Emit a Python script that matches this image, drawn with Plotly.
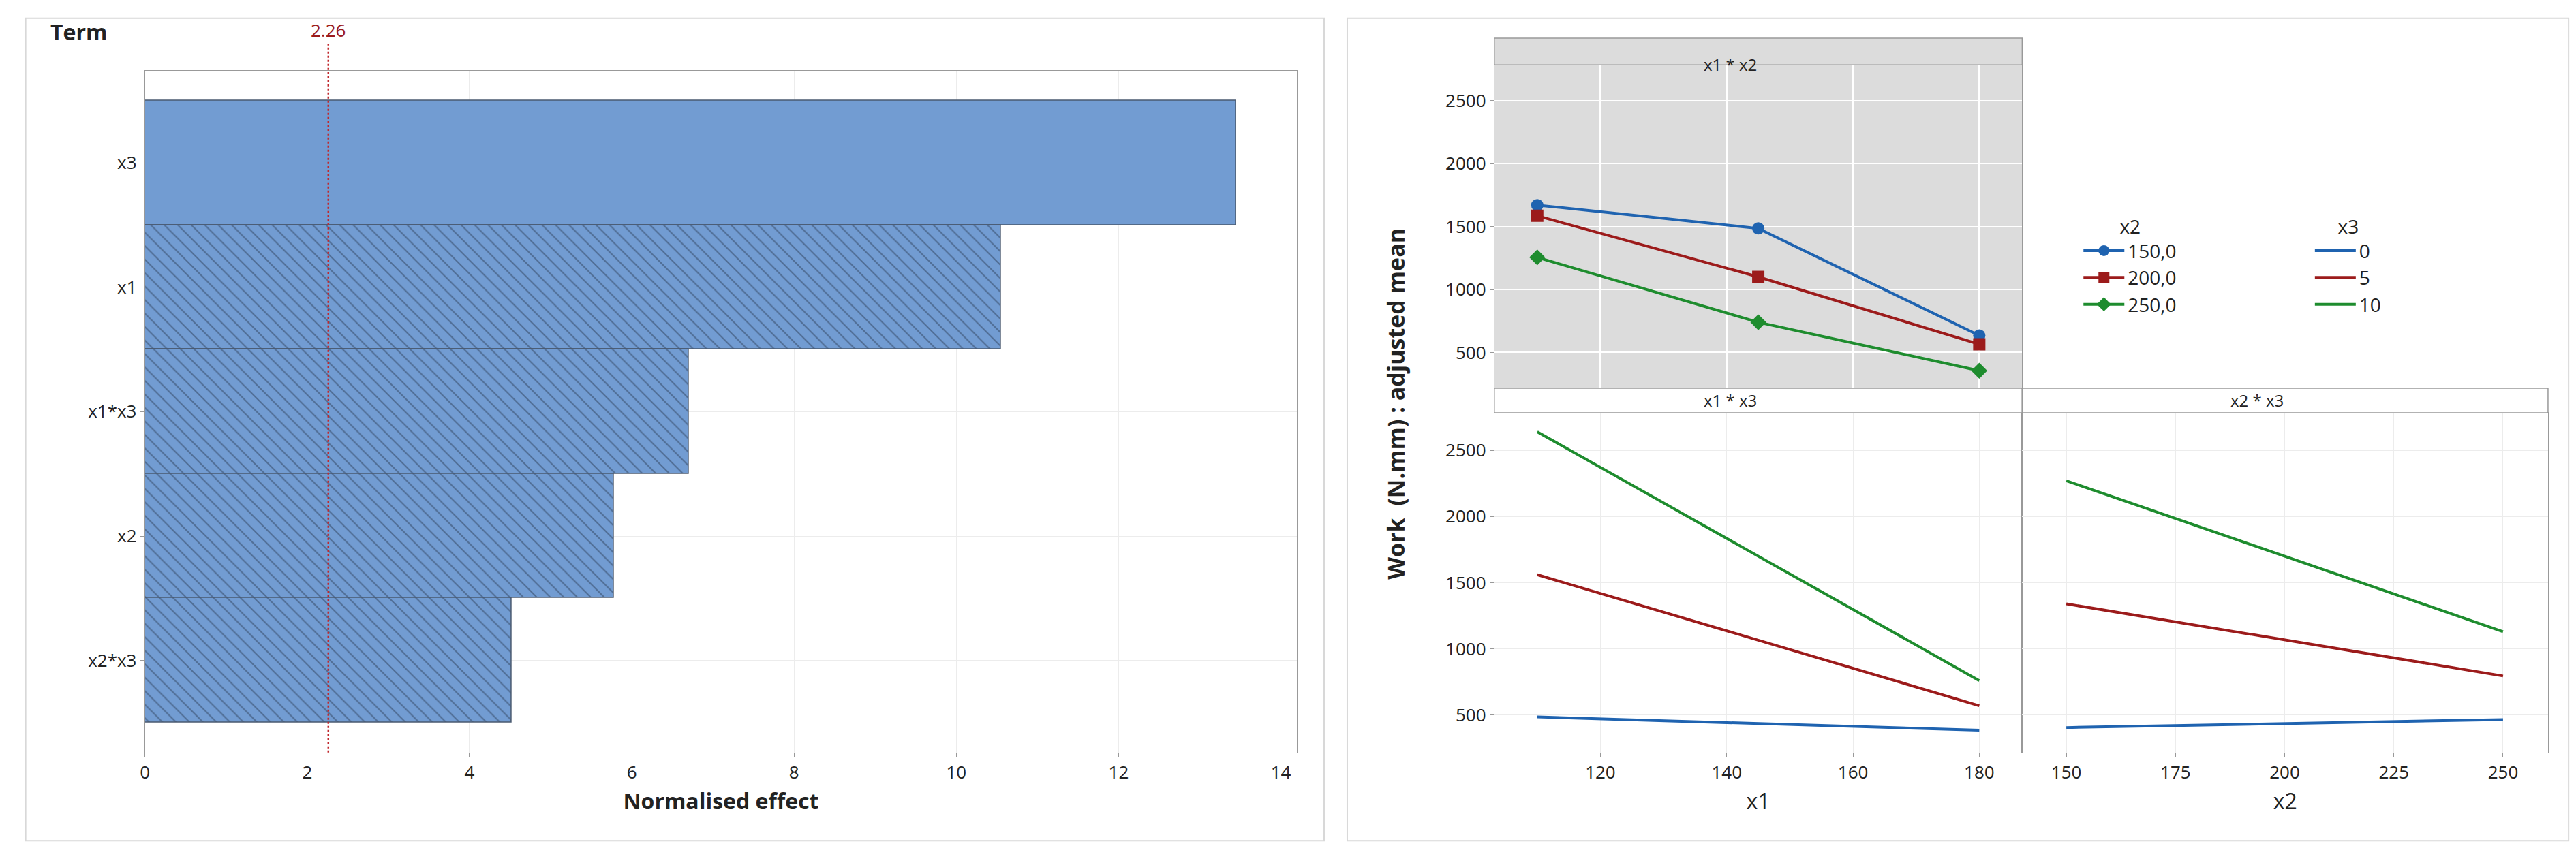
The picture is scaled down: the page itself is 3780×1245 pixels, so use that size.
import plotly.graph_objects as go

terms = ["x3", "x1", "x1*x3", "x2", "x2*x3"]
effects = [13.45, 10.55, 6.7, 5.78, 4.52]
crit = 2.26

x1_levels = [110, 145, 180]
x2_levels = [150, 200, 250]
x1x2 = {"150,0": [1670, 1485, 635], "200,0": [1585, 1100, 565], "250,0": [1255, 740, 355]}
x1x3 = {"0": [485, 435, 385], "5": [1560, 1065, 570], "10": [2640, 1700, 760]}
x2x3 = {"0": [405, 435, 465], "5": [1340, 1068, 795], "10": [2270, 1700, 1130]}

cols = ["#1f63b0", "#9c1b1b", "#1e8c2e"]
syms = ["circle", "square", "diamond"]
F = "Open Sans"
fig = go.Figure()

# Pareto bars
patt = [""] + ["\\"] * 4
fig.add_trace(go.Bar(y=terms, x=effects, orientation="h", xaxis="x", yaxis="y",
                     marker=dict(color="#729cd2", line=dict(color="#4a5a70", width=1.5),
                                 pattern=dict(shape=patt, fgcolor="#2c3e55", bgcolor="#729cd2", size=14, solidity=0.15)),
                     showlegend=False))

# x1*x2
for i, (k, v) in enumerate(x1x2.items()):
    fig.add_trace(go.Scatter(x=x1_levels, y=v, xaxis="x2", yaxis="y2", mode="lines+markers", name=k,
                             line=dict(color=cols[i], width=4), marker=dict(symbol=syms[i], size=18, color=cols[i]),
                             legend="legend"))
for i, (k, v) in enumerate(x1x3.items()):
    fig.add_trace(go.Scatter(x=x1_levels, y=v, xaxis="x3", yaxis="y3", mode="lines", name=k,
                             line=dict(color=cols[i], width=4), legend="legend2"))
for i, (k, v) in enumerate(x2x3.items()):
    fig.add_trace(go.Scatter(x=x2_levels, y=v, xaxis="x4", yaxis="y4", mode="lines", name=k,
                             line=dict(color=cols[i], width=4), showlegend=False))

tf = dict(family=F, size=26, color="#222")
grid = "#ececec"
yr = [216, 2784]
fig.update_layout(
    width=3780, height=1245, margin=dict(l=0, r=0, t=0, b=0), paper_bgcolor="white", plot_bgcolor="white",
    font=dict(family=F, color="#222"),
    bargap=0,
    xaxis=dict(domain=[0.0524, 0.5005], range=[0, 14.2], dtick=2, tickfont=tf, showgrid=True, gridcolor=grid,
               showline=True, linecolor="#999", mirror=True, ticks="outside", ticklen=6, tickcolor="#999",
               title=dict(text="<b>Normalised effect</b>", font=dict(family=F, size=32, color="#222")), anchor="y"),
    yaxis=dict(domain=[0.119, 0.923], autorange=False, range=[4.74, -0.74], tickfont=tf, showgrid=True,
               gridcolor=grid, showline=True, linecolor="#999", mirror=True, ticks="outside", ticklen=6,
               tickcolor="#999", anchor="x"),
    xaxis2=dict(domain=[0.5772, 0.7825], range=[103.2, 186.8], tickvals=[120, 140, 160, 180], showticklabels=False,
                showgrid=True, gridcolor="white", gridwidth=2, showline=True, linecolor="#999", mirror=True,
                anchor="y2", zeroline=False),
    yaxis2=dict(domain=[0.5486, 0.930], range=yr, dtick=500, tickfont=tf, showgrid=True, gridcolor="white",
                gridwidth=2, showline=True, linecolor="#999", mirror=True, anchor="x2", zeroline=False, ticks="outside",
                ticklen=6, tickcolor="#999"),
    xaxis3=dict(domain=[0.5772, 0.7825], range=[103.2, 186.8], tickvals=[120, 140, 160, 180], tickfont=tf,
                showgrid=True, gridcolor=grid, showline=True, linecolor="#999", mirror=True, anchor="y3",
                ticks="outside", ticklen=6, tickcolor="#999", zeroline=False,
                title=dict(text="x1", font=dict(family=F, size=32, color="#222"))),
    yaxis3=dict(domain=[0.119, 0.5197], range=yr, dtick=500, tickfont=tf, showgrid=True, gridcolor=grid,
                showline=True, linecolor="#999", mirror=True, anchor="x3", zeroline=False, ticks="outside",
                ticklen=6, tickcolor="#999"),
    xaxis4=dict(domain=[0.7825, 0.987], range=[139.9, 260.3], tickvals=[150, 175, 200, 225, 250], tickfont=tf,
                showgrid=True, gridcolor=grid, showline=True, linecolor="#999", mirror=True, anchor="y4",
                ticks="outside", ticklen=6, tickcolor="#999", zeroline=False,
                title=dict(text="x2", font=dict(family=F, size=32, color="#222"))),
    yaxis4=dict(domain=[0.119, 0.5197], range=yr, dtick=500, showticklabels=False, showgrid=True, gridcolor=grid,
                showline=True, linecolor="#999", mirror=True, anchor="x4", zeroline=False),
    legend=dict(x=0.805, y=0.76, xanchor="left", yanchor="top", bgcolor="rgba(0,0,0,0)",
                title=dict(text="x2", font=dict(family=F, size=28), side="top center"),
                font=dict(family=F, size=28), itemwidth=60, tracegroupgap=0),
    legend2=dict(x=0.895, y=0.76, xanchor="left", yanchor="top", bgcolor="rgba(0,0,0,0)",
                 title=dict(text="x3", font=dict(family=F, size=28), side="top center"),
                 font=dict(family=F, size=28), itemwidth=60),
)

# top-left facet background
fig.add_shape(type="rect", xref="x2 domain", yref="y2 domain", x0=0, x1=1, y0=0, y1=1,
              fillcolor="#dcdcdc", line=dict(width=0), layer="below")
# strips
for (x0, x1, y0, y1, txt) in [(0.5772, 0.7825, 0.930, 0.9614, "x1 * x2"),
                              (0.5772, 0.7825, 0.5197, 0.5486, "x1 * x3"),
                              (0.7825, 0.987, 0.5197, 0.5486, "x2 * x3")]:
    fill = "#dcdcdc" if txt == "x1 * x2" else "white"
    fig.add_shape(type="rect", xref="paper", yref="paper", x0=x0, x1=x1, y0=y0, y1=y1,
                  fillcolor=fill, line=dict(color="#999", width=1.5))
    fig.add_annotation(xref="paper", yref="paper", x=(x0 + x1) / 2, y=(y0 + y1) / 2, text=txt, showarrow=False,
                       font=dict(family=F, size=24, color="#222"))

# panel borders
for x0, x1 in [(0.006, 0.511), (0.52, 0.995)]:
    fig.add_shape(type="rect", xref="paper", yref="paper", x0=x0, x1=x1, y0=0.015, y1=0.985,
                  line=dict(color="#d8d8d8", width=2))

# critical line
fig.add_shape(type="line", xref="x", yref="paper", x0=crit, x1=crit, y0=0.119, y1=0.955,
              line=dict(color="#c0282d", width=2.5, dash="dot"))
fig.add_annotation(xref="x", yref="paper", x=crit, y=0.955, text=f"{crit:.2f}", showarrow=False, yanchor="bottom",
                   font=dict(family=F, size=26, color="#9c1b1b"))
fig.add_annotation(xref="paper", yref="paper", x=0.015, y=0.95, text="<b>Term</b>", showarrow=False,
                   xanchor="left", yanchor="bottom", font=dict(family=F, size=32, color="#222"))
fig.add_annotation(xref="paper", yref="paper", x=0.539, y=0.53, text="<b>Work  (N.mm) : adjusted mean</b>",
                   showarrow=False, textangle=-90, font=dict(family=F, size=34, color="#222"))

fig.write_html("out.html")
